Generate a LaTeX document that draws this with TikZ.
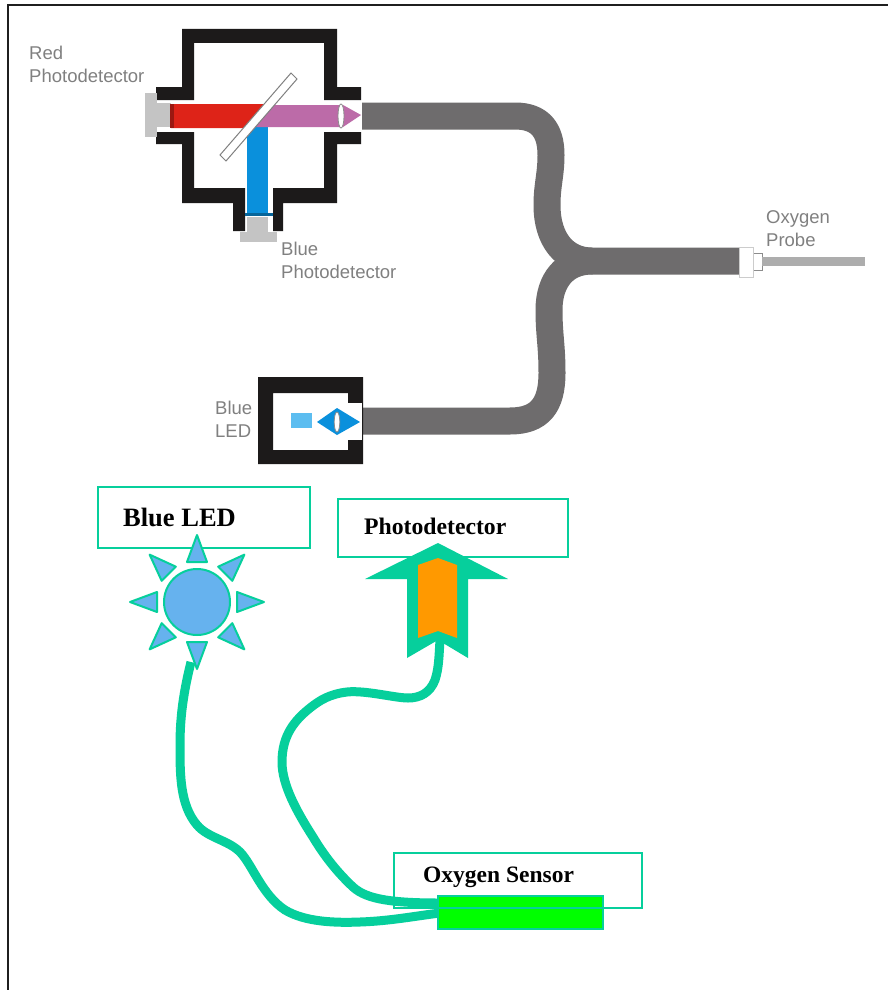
\documentclass[tikz,border=0pt]{standalone}
\usepackage{fontspec}
\setmainfont{Liberation Serif}
\setsansfont{Liberation Sans}
\definecolor{teal1}{HTML}{06CF9C}
\definecolor{fibre}{HTML}{6E6C6D}
\definecolor{wall}{HTML}{1C1A1A}
\definecolor{greyp}{HTML}{C4C4C4}
\definecolor{redb}{HTML}{DE2318}
\definecolor{purp}{HTML}{BC6BA8}
\definecolor{blueb}{HTML}{0A90DC}
\definecolor{ledl}{HTML}{5CBDF0}
\definecolor{sunb}{HTML}{66B2EE}
\definecolor{orangef}{HTML}{FF9900}
\tikzset{
  wallfill/.style={fill=wall,draw=none},
  fibreline/.style={draw=fibre,line width=27pt,line cap=butt,line join=round},
  wire/.style={draw=teal1,line width=9pt,line cap=butt},
  labelbox/.style={draw=teal1,line width=2pt,inner sep=0pt},
  boldlabel/.style={text=black,inner sep=0pt,anchor=west},
  greylabel/.style={font=\sffamily\fontsize{18.5}{23}\selectfont,text=black!50,align=left,inner sep=0pt,anchor=north west},
  sunray/.style={fill=sunb,draw=teal1,line width=2pt,line join=round}
}
\begin{document}
\begin{tikzpicture}[x=1pt,y=-1pt]
\useasboundingbox (0,0) rectangle (888,990);
\fill[white] (0,0) rectangle (888,990);
% image frame
\draw[black!88,line width=2.5pt] (8,990) -- (8,5) -- (888,5);
% fibres
\coordinate (fa) at (362,116);
\coordinate (fb) at (362,421);
\coordinate (fc) at (740,261);
\coordinate (fj) at (592,261);
\draw[fibreline] (fa) -- (515,116) .. controls (540,116) and (551,130) .. (551,155) .. controls (551,175) and (547,185) .. (547,205) .. controls (547,240) and (565,261) .. (fj) -- (fc);
\draw[fibreline] (fj) .. controls (565,261) and (549,280) .. (549,310) .. controls (549,335) and (552,345) .. (552,373) .. controls (552,405) and (540,421) .. (510,421) -- (fb);
% detector housing
\path[wallfill] (182,29) -- (337,29) -- (337,87) -- (361,87) -- (361,100) -- (324,100) -- (324,43) -- (194,43) -- (194,100) -- (156,100) -- (156,87) -- (182,87) -- cycle;
\path[wallfill] (156,132) -- (194,132) -- (194,188) -- (245,188) -- (245,231) -- (233,231) -- (233,203) -- (182,203) -- (182,144) -- (156,144) -- cycle;
\path[wallfill] (361,132) -- (324,132) -- (324,188) -- (273,188) -- (273,231) -- (283,231) -- (283,203) -- (337,203) -- (337,144) -- (361,144) -- cycle;
% red photodetector
\fill[greyp] (145,93) rectangle (157,137);
\fill[greyp] (157,103) rectangle (171,127);
% blue photodetector
\fill[greyp] (247,217) rectangle (268,232);
\fill[greyp] (240,232) rectangle (277,242);
% beams
\fill[blueb] (247,126) rectangle (268,213);
\fill[blueb!70!black] (245,213) rectangle (273,216);
\fill[redb] (171,104) -- (266,104) -- (246,128) -- (171,128) -- cycle;
\fill[redb!70!black] (170,104) rectangle (174,128);
\fill[purp] (264,105) -- (342,105) -- (342,127) -- (246,127) -- cycle;
\fill[purp] (343,105) -- (361,115) -- (343,127) -- cycle;
\draw[fill=white,draw=black!45,line width=0.8pt] (341,116) ellipse (3 and 12);
% mirror
\draw[fill=white,draw=black!50,line width=1pt] (220,155) -- (291,73) -- (297,79) -- (226,161) -- cycle;
% LED housing
\path[wallfill,even odd rule] (258,377) rectangle (363,464) (273,393) rectangle (348,450);
\fill[white] (348,403) rectangle (362,440);
\fill[ledl] (291,413) rectangle (312,428);
\fill[blueb] (317,422) -- (337,408) -- (360,422) -- (337,435) -- cycle;
\draw[fill=white,draw=black!45,line width=0.8pt] (337,422) ellipse (2.8 and 10);
% probe
\draw[fill=white,draw=black!45,line width=1pt] (753,253) rectangle (762,270);
\draw[fill=white,draw=black!20,line width=1pt] (739,247) rectangle (753,277);
\fill[black!32] (762,257) rectangle (865,266);
% grey labels
\node[greylabel] (lred) at (29,46) {Red\\Photodetector};
\node[greylabel] (lbluep) at (281,242) {Blue\\Photodetector};
\node[greylabel] (lprobe) at (766,210) {Oxygen\\Probe};
\node[greylabel] (lled) at (215,401) {Blue\\LED};
% label boxes
\node[labelbox,minimum width=212pt,minimum height=61pt] (bled) at (204,517.5) {};
\node[labelbox,minimum width=230pt,minimum height=58pt] (bpd) at (453,528) {};
\node[boldlabel,font=\bfseries\fontsize{26.5}{30}\selectfont] (tled) at (123,517) {Blue LED};
\node[boldlabel,font=\bfseries\fontsize{23.7}{28}\selectfont] (tpd) at (364,526) {Photodetector};
% sun
\node[circle,fill=sunb,draw=teal1,line width=2pt,minimum size=66pt,inner sep=0pt] (sun) at (197,602) {};
\foreach \a in {0,45,...,315}{
  \draw[sunray,shift={(sun.center)},rotate=\a] (40,-10) -- (67,0) -- (40,10) -- cycle;
}
% arrow
\coordinate (arrowfoot) at (440,640);
\fill[teal1] (438,543) -- (508,579) -- (468,579) -- (468,658) -- (438,640) -- (407,658) -- (407,579) -- (365,579) -- cycle;
\fill[orangef] (418,565) -- (438,558) -- (457,565) -- (457,638) -- (438,631) -- (418,638) -- cycle;
% wires
\coordinate (suna) at (191,662);
\coordinate (greena) at (440,903);
\coordinate (greenb) at (440,913);
\draw[wire] (arrowfoot) .. controls (439,655) and (439,668) .. (435,680) .. controls (430,693) and (420,698) .. (408,698) .. controls (395,698) and (365,690) .. (347,692) .. controls (330,694) and (320,700) .. (310,708) .. controls (295,720) and (282,735) .. (282,762) .. controls (282,785) and (297,812) .. (313,837) .. controls (325,857) and (338,873) .. (353,887) .. controls (367,900) and (395,903) .. (greena);
\draw[wire] (suna) .. controls (184,690) and (180,715) .. (180,745) .. controls (180,775) and (180,805) .. (197,825) .. controls (208,838) and (228,840) .. (240,852) .. controls (252,864) and (262,895) .. (285,910) .. controls (305,922) and (335,923) .. (360,922) .. controls (390,921) and (415,916) .. (greenb);
% sensor
\node[fill=green,draw=teal1,line width=2pt,minimum width=165pt,minimum height=33pt,inner sep=0pt] (sensor) at (520.5,912.5) {};
\node[labelbox,minimum width=248pt,minimum height=55pt] (bo2) at (518,880.5) {};
\node[boldlabel,font=\bfseries\fontsize{23.5}{28}\selectfont] (to2) at (423,877) {Oxygen Sensor};
\end{tikzpicture}
\end{document}
